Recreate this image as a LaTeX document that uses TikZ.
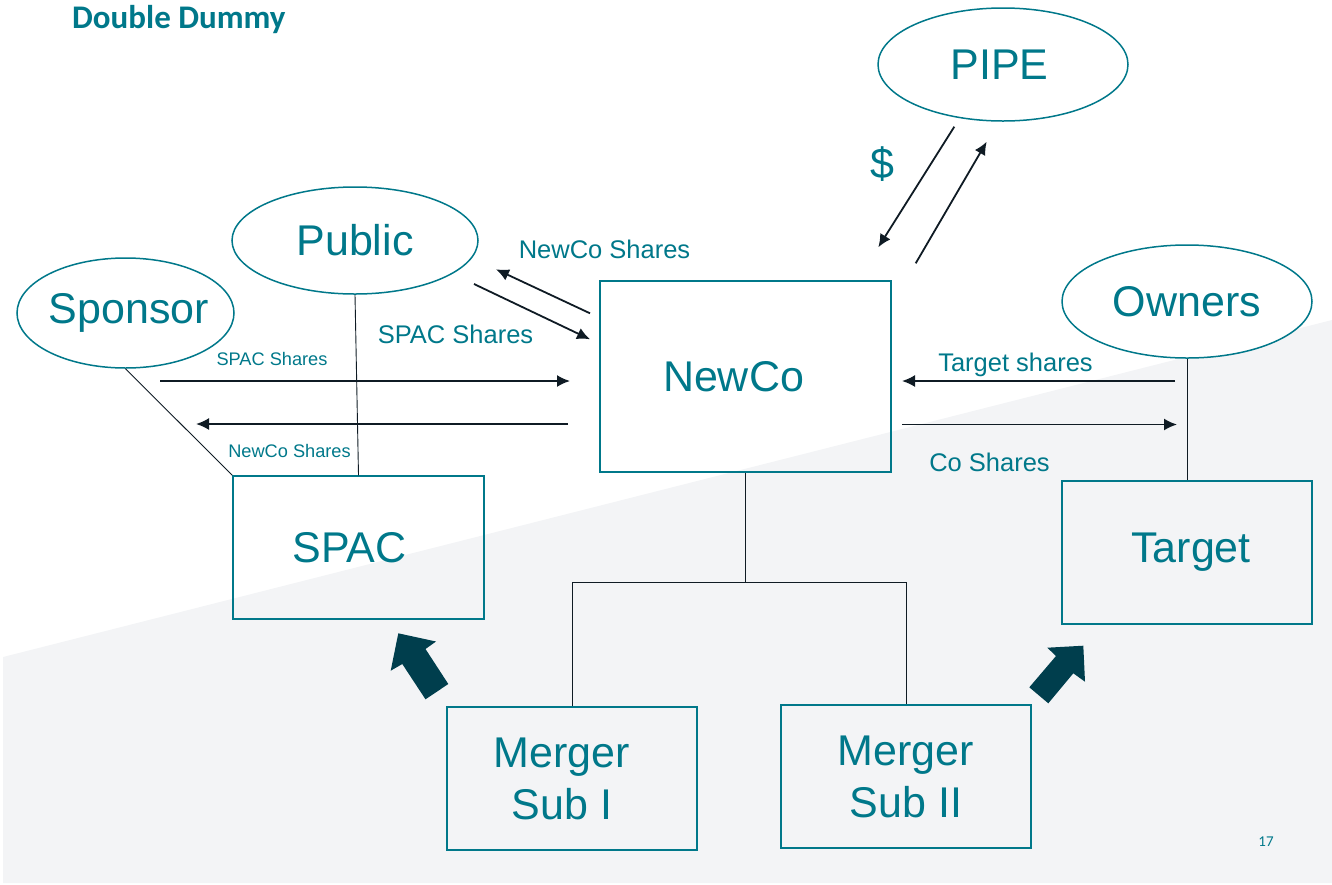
\documentclass[tikz,border=0pt]{standalone}
\usepackage{fontspec}
\setmainfont{Liberation Sans}
\newfontfamily\slidefont{Carlito}
\usetikzlibrary{shapes.geometric,arrows.meta}
\definecolor{dealteal}{HTML}{00788A}
\definecolor{flowcol}{HTML}{0F1B24}
\definecolor{blockcol}{HTML}{003E4D}
\definecolor{paneltint}{HTML}{F3F4F6}
\newcommand{\ovaltext}[1]{\makebox[0pt]{#1}}
\begin{document}
\begin{tikzpicture}[x=1pt,y=-1pt,
    party/.style={ellipse,draw=dealteal,fill=white,line width=1.5pt,inner sep=0pt,
      text=dealteal,font=\fontsize{43}{52}\selectfont},
    entity/.style={rectangle,draw=dealteal,line width=1.5pt,inner sep=0pt,
      text=dealteal,align=center,font=\fontsize{43}{52}\selectfont},
    flow/.style={draw=flowcol,line width=1.8pt,-{Latex[length=13pt,width=12pt]}},
    tie/.style={draw=flowcol,line width=0.9pt},
    lbl/.style={text=dealteal,inner sep=0pt,font=\fontsize{25.5}{30}\selectfont},
    smalllbl/.style={text=dealteal,inner sep=0pt,font=\fontsize{18.2}{22}\selectfont},
    bigarrow/.style={fill=blockcol}]
    \useasboundingbox (0,0) rectangle (1332,884);
    \fill [paneltint] (3,657) -- (1332,320) -- (1332,883) -- (3,883) -- cycle;
    \node [anchor=base west,inner sep=0pt,text=dealteal,
      font=\slidefont\bfseries\fontsize{33}{40}\selectfont] (title) at (72,28.5) {Double Dummy};
    \node [text=dealteal,inner sep=0pt,font=\slidefont\fontsize{15}{18}\selectfont] (pagenum) at (1266,842) {17};
    % parties
    \node [party,minimum width=250pt,minimum height=113pt] (pipe) at (1003,64.5) {\ovaltext{PIPE\hspace*{7pt}}};
    \node [party,minimum width=246pt,minimum height=107pt] (public) at (355,240.5) {\ovaltext{Public}};
    \node [party,minimum width=217pt,minimum height=110pt] (sponsor) at (125.5,313) {\ovaltext{\hspace*{7pt}Sponsor}};
    \node [party,minimum width=250pt,minimum height=113pt] (owners) at (1187,301.5) {\ovaltext{Owners}};
    % entities
    \node [entity,minimum width=291pt,minimum height=191pt] (newco) at (745.5,376.5) {NewCo\hspace*{24pt}};
    \node [entity,minimum width=251pt,minimum height=143pt] (spac) at (358.5,547.5) {SPAC\hspace*{18pt}};
    \node [entity,minimum width=250pt,minimum height=143pt] (target) at (1187,552.5) {\hspace*{8pt}Target};
    \node [entity,minimum width=250pt,minimum height=143pt] (subone) at (572,778.5) {Merger\hspace*{20pt}\\Sub I\hspace*{20pt}};
    \node [entity,minimum width=250pt,minimum height=143pt] (subtwo) at (906,776.5) {Merger\\Sub II};
    % ownership lines
    \draw [tie] (sponsor.south) -- (spac.north west);
    \draw [tie] (public.south) -- (spac.north);
    \draw [tie] (owners.south) -- (target.north);
    \coordinate (fork) at (745.5,582);
    \draw [tie] (newco.south) -- (fork);
    \draw [tie] (subone.north) -- (subone.north |- fork) -- (subtwo.north |- fork) -- (subtwo.north);
    % share and cash flows
    \coordinate (spacin) at (160,381);
    \coordinate (spacout) at (570,381);
    \coordinate (newcoin) at (568,424);
    \coordinate (newcoout) at (196,424);
    \draw [flow] (spacin) -- (spacout);
    \draw [flow] (newcoin) -- (newcoout);
    \node [smalllbl] (spacshareslow) at (272,359) {SPAC Shares};
    \node [smalllbl] (newcoshareslow) at (289.5,451) {NewCo Shares};
    \coordinate (pubin) at (590,313.3);
    \coordinate (pubout) at (496,269.3);
    \coordinate (pubsend) at (474,284);
    \coordinate (pubrecv) at (590,339.3);
    \draw [flow] (pubin) -- (pubout);
    \draw [flow] (pubsend) -- (pubrecv);
    \node [lbl] (newcoshares) at (604.5,249) {NewCo Shares};
    \node [lbl] (spacshares) at (455.5,334) {SPAC Shares};
    \coordinate (cashfrom) at (954.3,126.7);
    \coordinate (cashto) at (878.3,247.3);
    \coordinate (pipefrom) at (915.7,263.3);
    \coordinate (pipeto) at (986.7,141.7);
    \draw [flow] (cashfrom) -- (cashto);
    \draw [flow] (pipefrom) -- (pipeto);
    \node [text=dealteal,inner sep=0pt,font=\fontsize{43}{52}\selectfont] (cash) at (882,164) {\$};
    \coordinate (tgtfrom) at (1175,381);
    \coordinate (tgtto) at (902,381);
    \coordinate (cofrom) at (902,424.5);
    \coordinate (coto) at (1177,424.5);
    \draw [flow] (tgtfrom) -- (tgtto);
    \draw [flow] (cofrom) -- (coto);
    \node [lbl] (targetshares) at (1015.5,365) {Target shares};
    \node [lbl] (coshares) at (989.5,462) {Co Shares};
    % merger arrows
    \fill [bigarrow] (398.3,633.3) -- (436,641.5) -- (425.5,649) -- (448.3,684) -- (425.5,699.3)
      -- (402.3,664) -- (390.7,670.7) -- cycle;
    \fill [bigarrow] (1083.3,645.7) -- (1047.3,647.7) -- (1056,656) -- (1029.3,687.3) -- (1048.3,703.3)
      -- (1073.3,673.3) -- (1085,681.7) -- cycle;
\end{tikzpicture}
\end{document}
